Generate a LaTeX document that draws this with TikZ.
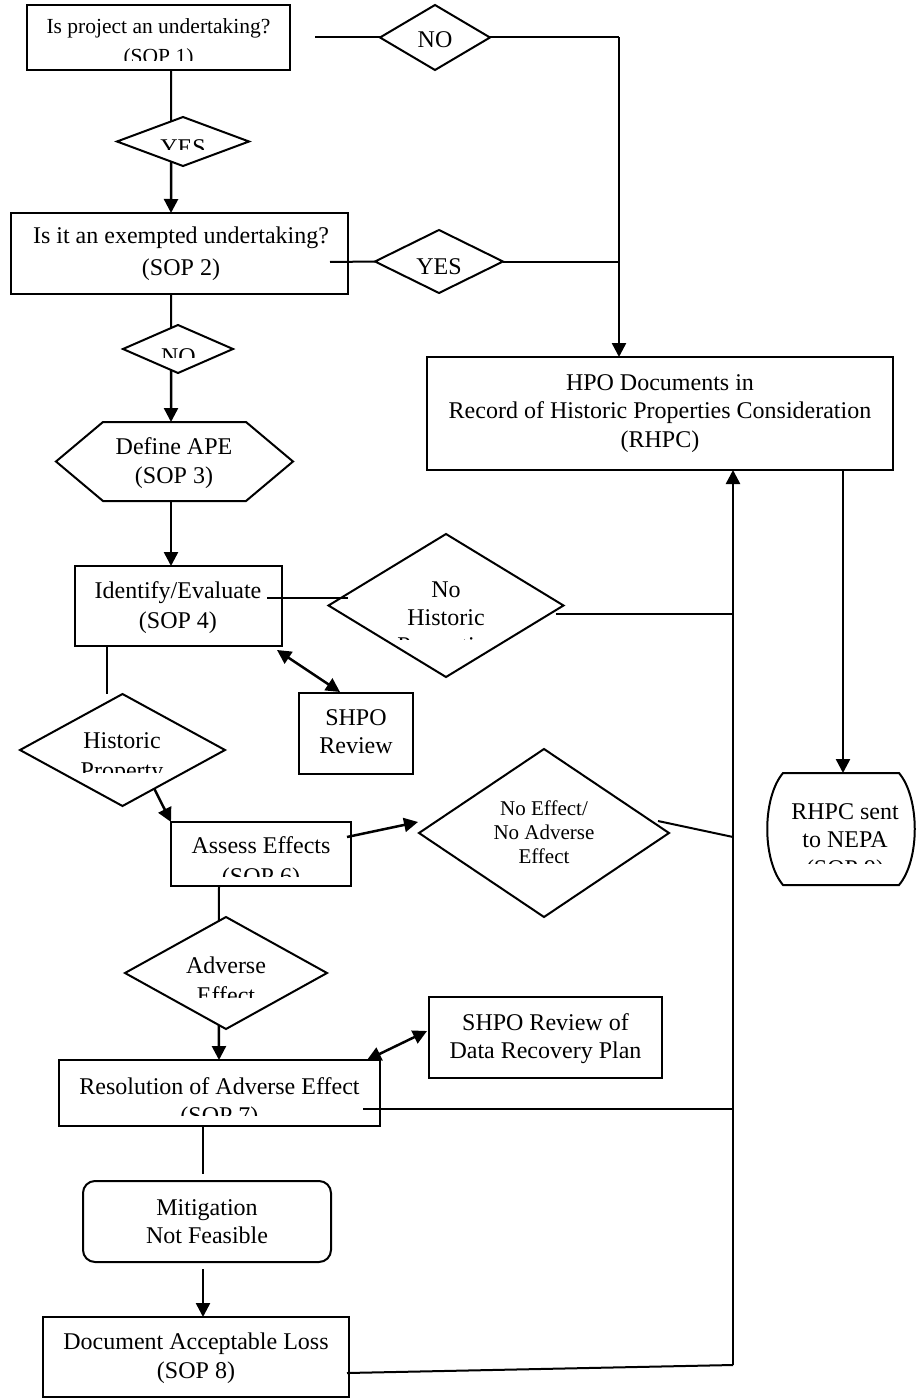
\documentclass[tikz,border=0pt]{standalone}
\usepackage{fontspec}
\setmainfont{Liberation Serif}
\usetikzlibrary{shapes.geometric,arrows.meta,calc}
\begin{document}
\begin{tikzpicture}[x=1pt,y=-1pt,
  box/.style={draw,line width=2,inner sep=0,outer sep=0},
  dia/.style={draw,diamond,line width=2,inner sep=0,outer sep=0},
  ghost/.style={draw=none,inner sep=0,outer sep=0},
  txt/.style={align=center,anchor=base,inner sep=0,font=\fontsize{24}{29}\selectfont},
  ln/.style={line width=2},
  arr/.style={line width=2.5,-{Triangle[length=14pt,width=14pt]}},
  darr/.style={line width=2.5,{Triangle[length=14pt,width=14pt]}-{Triangle[length=14pt,width=14pt]}}]
\useasboundingbox (0,0) rectangle (917,1399);
\fill[white] (0,0) rectangle (917,1399);

% ---- shapes
\node[box,minimum width=263,minimum height=65] (q1) at (158.5,37.5) {};
\node[dia,minimum width=110,minimum height=65] (no1) at (435,37.5) {};
\node[dia,minimum width=132,minimum height=49] (yes1) at (183,141.5) {};
\node[box,minimum width=337,minimum height=81] (q2) at (179.5,253.5) {};
\node[dia,minimum width=128,minimum height=63] (yes2) at (439,261.5) {};
\node[dia,minimum width=110,minimum height=48] (no2) at (178,349) {};
\node[ghost,minimum width=237,minimum height=79] (ape) at (174.5,461.5) {};
\draw[ln] (ape.west) -- ([xshift=47pt]ape.north west) -- ([xshift=-47pt]ape.north east)
  -- (ape.east) -- ([xshift=-47pt]ape.south east) -- ([xshift=47pt]ape.south west) -- cycle;
\node[box,minimum width=466,minimum height=113] (hpo) at (660,413.5) {};
\node[box,minimum width=207,minimum height=80] (q4) at (178.5,606) {};
\node[dia,minimum width=235,minimum height=143] (nh) at (446,605.5) {};
\node[box,minimum width=114,minimum height=81] (sr) at (356,733.5) {};
\node[dia,minimum width=205,minimum height=112] (hp) at (122.5,750) {};
\node[box,minimum width=180,minimum height=64] (q6) at (261,854) {};
\node[dia,minimum width=250,minimum height=168] (ne) at (544,833) {};
\node[dia,minimum width=202,minimum height=112] (ad) at (226,973) {};
\node[box,minimum width=233,minimum height=81] (sd) at (545.5,1037.5) {};
\node[box,minimum width=321,minimum height=66] (q7) at (219.5,1093) {};
\node[box,rounded corners=12pt,minimum width=248,minimum height=81] (mit) at (207,1221.5) {};
\node[box,minimum width=306,minimum height=80] (q8) at (196,1357) {};
\node[ghost,minimum width=148,minimum height=112] (rs) at (841,829) {};
\draw[ln] ([xshift=16pt]rs.north west) -- ([xshift=-16pt]rs.north east)
  .. controls ([xshift=5pt,yshift=-25pt]rs.north east) and ([xshift=5pt,yshift=25pt]rs.south east) .. ([xshift=-16pt]rs.south east)
  -- ([xshift=16pt]rs.south west)
  .. controls ([xshift=-5pt,yshift=25pt]rs.south west) and ([xshift=-5pt,yshift=-25pt]rs.north west) .. cycle;

% ---- texts (anchor=base is the baseline of the last line)
\begin{scope}
\clip (27,5) rectangle (290,61);
\node[txt,font=\fontsize{21.5}{30}\selectfont] (q1t) at (158.5,64) {Is project an undertaking?\\(SOP 1)};
\end{scope}
\node[txt] (no1t) at (435,48) {NO};
\begin{scope}
\clip (117,117) rectangle (249,150);
\node[txt] (yes1t) at (183,156) {YES};
\end{scope}
\node[txt,font=\fontsize{24}{32}\selectfont] (q2t) at (181,275) {Is it an exempted undertaking?\\(SOP 2)};
\node[txt] (yes2t) at (439,274) {YES};
\begin{scope}
\clip (123,325) rectangle (233,357);
\node[txt] (no2t) at (178.5,364) {NO};
\end{scope}
\node[txt] (apet) at (174,483) {Define APE\\(SOP 3)};
\node[txt,font=\fontsize{24}{28.5}\selectfont] (hpot) at (660,447) {HPO Documents in\\Record of Historic Properties Consideration\\(RHPC)};
\node[txt,font=\fontsize{24}{30}\selectfont] (q4t) at (178,628) {Identify/Evaluate\\(SOP 4)};
\begin{scope}
\clip (328,534) rectangle (563,639);
\node[txt,font=\fontsize{24}{28}\selectfont] (nht) at (446,653) {No\\Historic\\Properties};
\end{scope}
\node[txt,font=\fontsize{24}{28}\selectfont] (srt) at (356,753) {SHPO\\Review};
\begin{scope}
\clip (20,694) rectangle (225,772);
\node[txt,font=\fontsize{24}{30}\selectfont] (hpt) at (122,778) {Historic\\Property};
\end{scope}
\begin{scope}
\clip (171,822) rectangle (351,876);
\node[txt,font=\fontsize{24}{31}\selectfont] (q6t) at (261,884) {Assess Effects\\(SOP 6)};
\end{scope}
\node[txt,font=\fontsize{21}{24}\selectfont] (net) at (544,863) {No Effect/\\No Adverse\\Effect};
\begin{scope}
\clip (125,917) rectangle (327,997);
\node[txt,font=\fontsize{24}{30}\selectfont] (adt) at (226,1003) {Adverse\\Effect};
\end{scope}
\node[txt,font=\fontsize{24}{28}\selectfont] (sdt) at (545.5,1058) {SHPO Review of\\Data Recovery Plan};
\begin{scope}
\clip (59,1060) rectangle (380,1115);
\node[txt] (q7t) at (219.5,1123) {Resolution of Adverse Effect\\(SOP 7)};
\end{scope}
\node[txt,font=\fontsize{24}{28}\selectfont] (mitt) at (207,1243) {Mitigation\\Not Feasible};
\node[txt] (q8t) at (196,1378) {Document Acceptable Loss\\(SOP 8)};
\begin{scope}
\clip (767,773) rectangle (915,863);
\node[txt,font=\fontsize{24}{28.5}\selectfont] (rst) at (845,876) {RHPC sent\\to NEPA\\(SOP 9)};
\end{scope}

% ---- helper coordinates
\coordinate (cA) at (171,0);
\coordinate (cB) at (107,0);
\coordinate (cC) at (219,0);
\coordinate (cD) at (203,0);
\coordinate (cF) at (733,0);
\coordinate (cG) at (843,0);
\coordinate (j1) at (619,37.5);
\coordinate (q1e) at (315,37.5);
\coordinate (q2e) at (330,262);
\coordinate (q4e) at (267,598);
\coordinate (q7e) at (363,1109);
\coordinate (q8e) at (347,1373);
\coordinate (fb) at (733,1365);
\coordinate (nhe) at ($(nh.east)+(-8,8)$);
\coordinate (nee) at ($(ne.east)+(-11,-12)$);

% ---- connectors
\draw[ln] (q1e) -- (no1.west);
\draw[ln] (no1.east) -- (j1);
\draw[arr] (j1) -- (j1 |- hpo.north);
\draw[ln] (q2e) -- (yes2.west);
\draw[ln] (yes2.east) -- (j1 |- yes2.east);
\draw[ln] (cA |- q1.south) -- ($(yes1.north)!0.18!(yes1.west)$);
\draw[arr] ($(yes1.south)!0.18!(yes1.west)$) -- (cA |- q2.north);
\draw[ln] (cA |- q2.south) -- ($(no2.north)!0.127!(no2.west)$);
\draw[arr] ($(no2.south)!0.127!(no2.west)$) -- (cA |- ape.north);
\draw[arr] (cA |- ape.south) -- (cA |- q4.north);
\draw[ln] (q4e) -- ($(nh.west)+(19,-7.5)$);
\draw[ln] (nhe) -- (cF |- nhe);
\draw[darr] ($(q4.south east)+(-5,4)$) -- ($(sr.north)+(-16,-1)$);
\draw[ln] (cB |- q4.south) -- (cB |- hp.north);
\draw[arr] ($(hp.south)!0.31!(hp.east)$) -- (q6.north west);
\draw[arr] ($(q6.east)+(-4,-17)$) -- ($(ne.west)+(-1,-11)$);
\draw[ln] (nee) -- ($(cF |- ne.east)+(0,4)$);
\draw[ln] (cC |- q6.south) -- ($(ad.north)!0.07!(ad.west)$);
\draw[arr] ($(ad.south)!0.07!(ad.west)$) -- (cC |- q7.north);
\draw[darr] ($(q7.north east)+(-13,0)$) -- ($(sd.west)+(-2,-6.5)$);
\draw[ln] (q7e) -- (cF |- q7e);
\draw[ln] (cD |- q7.south) -- ($(cD |- mit.north)+(0,-7)$);
\draw[arr] ($(cD |- mit.south)+(0,7)$) -- (cD |- q8.north);
\draw[ln] (q8e) -- (fb);
\draw[arr] (fb) -- (cF |- hpo.south);
\draw[arr] (cG |- hpo.south) -- (cG |- rs.north);
\end{tikzpicture}
\end{document}
